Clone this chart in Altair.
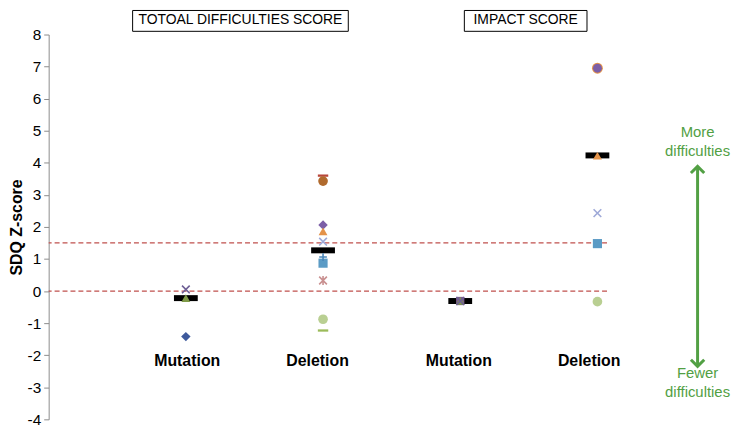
import altair as alt
import pandas as pd

# ---- data ----
group_pos = [1, 2, 3, 4]
label_pos = [1.01, 1.96, 2.99, 3.94]
group_labels = ["Mutation", "Deletion", "Mutation", "Deletion"]
mean_values = [-0.22, 1.27, -0.31, 4.23]

pt_group = [1, 1, 1,
            2, 2, 2, 2, 2, 2, 2, 2, 2, 2,
            3, 3, 3,
            4, 4, 4, 4, 4, 4]
pt_value = [-1.42, 0.05, -0.22,
            3.60, 3.43, 2.06, 1.86, 1.54, 1.06, 0.87, 0.33, -0.88, -1.23,
            -0.31, -0.31, -0.31,
            6.95, 6.95, 4.22, 2.43, 1.48, -0.33]
pt_series = ["diamond_navy", "x_purple", "tri_olive",
             "dash_red", "circ_brown", "diamond_purple", "tri_orange", "x_lightblue",
             "plus_blue", "square_blue", "star_pink", "circ_lightgreen", "dash_green",
             "square_purple", "tri_olive", "x_purple",
             "circ_orange_big", "circ_purple", "tri_orange", "x_lightblue", "square_blue", "circ_lightgreen"]

ref_values = [1.5, 0.0]

panel_titles = ["TOTOAL DIFFICULTIES SCORE", "IMPACT SCORE"]
panel_x = [0.612, 3.03]
panel_x2 = [2.184, 3.924]

more_text = ["More", "difficulties"]
more_y = [4.95, 4.36]
fewer_text = ["Fewer", "difficulties"]
fewer_y = [-2.55, -3.16]
arrow_x = 4.73
arrow_top = 3.89
arrow_bottom = -2.35

# ---- marker styles ----
X_PATH = "M-1,-1L1,1M-1,1L1,-1"
PLUS_PATH = "M-1,0L1,0M0,-1L0,1"
STAR_PATH = "M-1,-1L1,1M-1,1L1,-1M0,-1.2L0,1.2"
DASH_PATH = "M-1,-0.22L1,-0.22L1,0.22L-1,0.22Z"
styles = {
    "diamond_navy": ("diamond", "#3e5a9c", True, 90),
    "x_purple": (X_PATH, "#6e5f95", False, 60),
    "tri_olive": ("triangle-up", "#7f9a48", True, 80),
    "dash_red": (DASH_PATH, "#b8473a", True, 110),
    "circ_brown": ("circle", "#b06a2d", True, 95),
    "diamond_purple": ("diamond", "#7b5ea7", True, 90),
    "tri_orange": ("triangle-up", "#e4934a", True, 80),
    "x_lightblue": (X_PATH, "#9ea9d8", False, 60),
    "plus_blue": (PLUS_PATH, "#4a86b8", False, 60),
    "square_blue": ("square", "#5b9bc5", True, 85),
    "star_pink": (STAR_PATH, "#c99090", False, 60),
    "circ_lightgreen": ("circle", "#b9cf92", True, 95),
    "dash_green": (DASH_PATH, "#9bbb59", True, 110),
    "square_purple": ("square", "#7a5d8a", True, 70),
    "circ_orange_big": ("circle", "#e4934a", True, 120),
    "circ_purple": ("circle", "#7b5ea7", True, 80),
}

pts = pd.DataFrame({"g": pt_group, "v": pt_value, "s": pt_series})
pts["shape"] = [styles[s][0] for s in pts["s"]]
pts["color"] = [styles[s][1] for s in pts["s"]]
pts["filled"] = [styles[s][2] for s in pts["s"]]
pts["size"] = [styles[s][3] for s in pts["s"]]
pts["order"] = range(len(pts))

FONT = "Liberation Sans"
XMAX = 4.07
xs = alt.Scale(domain=[0, XMAX], nice=False, zero=False)
ys = alt.Scale(domain=[-4, 8], nice=False, zero=False)

yaxis = alt.Axis(values=list(range(-4, 9)), grid=False, title="SDQ Z-score",
                 labelExpr="toString(datum.value)",
                 domainColor="#8c8c8c", tickColor="#8c8c8c", tickSize=5,
                 labelFontSize=15.5, labelFont=FONT, labelColor="#000", labelPadding=3,
                 titleFontSize=16, titleFont=FONT, titleFontWeight="bold",
                 titleColor="#000", titlePadding=3)

X = lambda f: alt.X(f, type="quantitative", scale=xs, axis=None)
Y = lambda f: alt.Y(f, type="quantitative", scale=ys, axis=yaxis)

ref_df = pd.DataFrame({"y": ref_values})
refs = alt.Chart(ref_df).mark_rule(color="#c0504d", strokeDash=[5, 3], strokeWidth=1.3).encode(
    y=Y("y:Q"))

mean_df = pd.DataFrame({"x": group_pos, "y": mean_values})
means = alt.Chart(mean_df).mark_tick(orient="horizontal", color="#000", size=24,
                                     thickness=6, opacity=1).encode(x=X("x:Q"), y=Y("y:Q"))

filled_pts = alt.Chart(pts[pts["filled"]]).mark_point(filled=True, opacity=1, strokeWidth=0).encode(
    x=X("g:Q"), y=Y("v:Q"),
    shape=alt.Shape("shape:N", scale=None),
    color=alt.Color("color:N", scale=None),
    size=alt.Size("size:Q", scale=None),
    order="order:Q")
stroked_pts = alt.Chart(pts[~pts["filled"]]).mark_point(filled=False, opacity=1, strokeWidth=1.6).encode(
    x=X("g:Q"), y=Y("v:Q"),
    shape=alt.Shape("shape:N", scale=None),
    color=alt.Color("color:N", scale=None),
    size=alt.Size("size:Q", scale=None),
    order="order:Q")

lab_df = pd.DataFrame({"x": label_pos, "t": group_labels, "y": [-2.17] * 4})
labels = alt.Chart(lab_df).mark_text(font=FONT, fontSize=16, fontWeight="bold", color="#000",
                                     baseline="middle").encode(x=X("x:Q"), y=Y("y:Q"), text="t:N")

box_df = pd.DataFrame({"x": panel_x, "x2": panel_x2, "t": panel_titles,
                       "y": [8.1, 8.1], "y2": [8.75, 8.75]})
box_df["xc"] = (box_df["x"] + box_df["x2"]) / 2
box_df["yc"] = [8.44, 8.44]
boxes = alt.Chart(box_df).mark_rect(fill="white", stroke="#000", strokeWidth=1).encode(
    x=X("x:Q"), x2="x2:Q", y=Y("y:Q"), y2="y2:Q")
box_text = alt.Chart(box_df).mark_text(font=FONT, fontSize=14, color="#000", baseline="middle").encode(
    x=X("xc:Q"), y=Y("yc:Q"), text="t:N")

GREEN = "#52a044"
arr_df = pd.DataFrame({"x": [arrow_x], "y": [arrow_top], "y2": [arrow_bottom]})
arrow_line = alt.Chart(arr_df).mark_rule(color=GREEN, strokeWidth=3).encode(
    x=X("x:Q"), y=Y("y:Q"), y2="y2:Q")
head_df = pd.DataFrame({"x": [arrow_x, arrow_x], "y": [arrow_top, arrow_bottom],
                        "shape": ["M-1,1L0,0L1,1", "M-1,-1L0,0L1,-1"]})
heads = alt.Chart(head_df).mark_point(filled=False, color=GREEN, strokeWidth=3, size=180,
                                      opacity=1).encode(
    x=X("x:Q"), y=Y("y:Q"), shape=alt.Shape("shape:N", scale=None))
ann_df = pd.DataFrame({"x": [arrow_x] * 4, "y": more_y + fewer_y, "t": more_text + fewer_text})
ann = alt.Chart(ann_df).mark_text(font=FONT, fontSize=15, color=GREEN, baseline="middle").encode(
    x=X("x:Q"), y=Y("y:Q"), text="t:N")

chart = alt.layer(refs, means, filled_pts, stroked_pts, labels, boxes, box_text,
                  arrow_line, heads, ann).properties(
    width=563, height=388, background="white",
    padding={"left": 0, "top": 0, "right": 0, "bottom": 0}
).configure_view(strokeWidth=0, stroke="transparent")

chart.save("out.html", embed_options={"renderer": "svg", "actions": False})
